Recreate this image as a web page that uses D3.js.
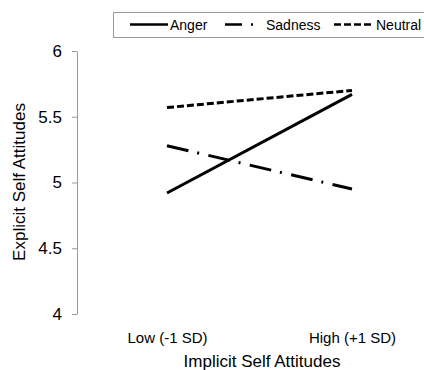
<!DOCTYPE html>
<html>
<head>
<meta charset="utf-8">
<script src="https://cdn.jsdelivr.net/npm/d3@7"></script>
<style>
  html, body { margin: 0; padding: 0; background: #fff; }
  svg { display: block; font-family: "Liberation Sans", Arial, sans-serif; }
</style>
</head>
<body>
<svg id="chart" width="424" height="370"></svg>
<script>
const categories = ["Low (-1 SD)", "High (+1 SD)"];
const seriesNames = ["Anger", "Sadness", "Neutral"];
const angerValues = [4.92, 5.67];
const sadnessValues = [5.28, 4.95];
const neutralValues = [5.57, 5.70];
const yTicks = [4, 4.5, 5, 5.5, 6];
const yTitle = "Explicit Self Attitudes";
const xTitle = "Implicit Self Attitudes";

const series = [
  { name: seriesNames[0], values: angerValues, dash: null },
  { name: seriesNames[1], values: sadnessValues, dash: "22,9,2,9.5" },
  { name: seriesNames[2], values: neutralValues, dash: "7,3" }
];

const svg = d3.select("#chart");
const x = d3.scalePoint().domain(categories).range([167, 352]);
const y = d3.scaleLinear().domain([4, 6]).range([314, 51]);

// y axis
const yAxis = d3.axisLeft(y).tickValues(yTicks).tickSize(5).tickSizeOuter(0).tickPadding(10)
  .tickFormat(d => String(d));
const ya = svg.append("g").attr("transform", "translate(77,0)").call(yAxis);
ya.select(".domain").attr("stroke", "#999");
ya.selectAll(".tick line").attr("stroke", "#999");
ya.selectAll(".tick text").attr("font-size", 17).attr("fill", "#000")
  .attr("font-family", "'Liberation Sans', Arial, sans-serif");

// x axis labels (no line)
const xAxis = d3.axisBottom(x).tickSize(0).tickPadding(0);
const xa = svg.append("g").attr("transform", "translate(0,331)").call(xAxis);
xa.select(".domain").remove();
xa.selectAll(".tick text").attr("font-size", 15).attr("fill", "#000")
  .attr("dy", "0.8em")
  .attr("font-family", "'Liberation Sans', Arial, sans-serif");

// titles
svg.append("text").attr("x", 262).attr("y", 367).attr("text-anchor", "middle")
  .attr("font-size", 17).attr("fill", "#000").text(xTitle);
svg.append("text").attr("transform", "translate(25,182) rotate(-90)").attr("text-anchor", "middle")
  .attr("font-size", 17).attr("fill", "#000").text(yTitle);

// lines
const line = d3.line().x((d, i) => x(categories[i])).y(d => y(d));
series.forEach(s => {
  svg.append("path").datum(s.values).attr("d", line)
    .attr("fill", "none").attr("stroke", "#000").attr("stroke-width", 3)
    .attr("stroke-dasharray", s.dash);
});

// legend
const lg = svg.append("g");
lg.append("rect").attr("x", 113.5).attr("y", 12.5).attr("width", 340).attr("height", 25)
  .attr("fill", "#fff").attr("stroke", "#999").attr("stroke-width", 1);
const legendItems = [
  { s: series[0], x1: 130, x2: 168, tx: 170 },
  { s: series[1], x1: 225, x2: 253, tx: 266 },
  { s: series[2], x1: 334, x2: 371, tx: 376 }
];
legendItems.forEach(it => {
  lg.append("line").attr("x1", it.x1).attr("x2", it.x2).attr("y1", 24.5).attr("y2", 24.5)
    .attr("stroke", "#000").attr("stroke-width", 2.5)
    .attr("stroke-dasharray", it.s.name === "Sadness" ? "17,9,2,20" : it.s.name === "Neutral" ? "7,3" : null);
  lg.append("text").attr("x", it.tx).attr("y", 30).attr("font-size", 14).attr("fill", "#000").text(it.s.name);
});
</script>
</body>
</html>
